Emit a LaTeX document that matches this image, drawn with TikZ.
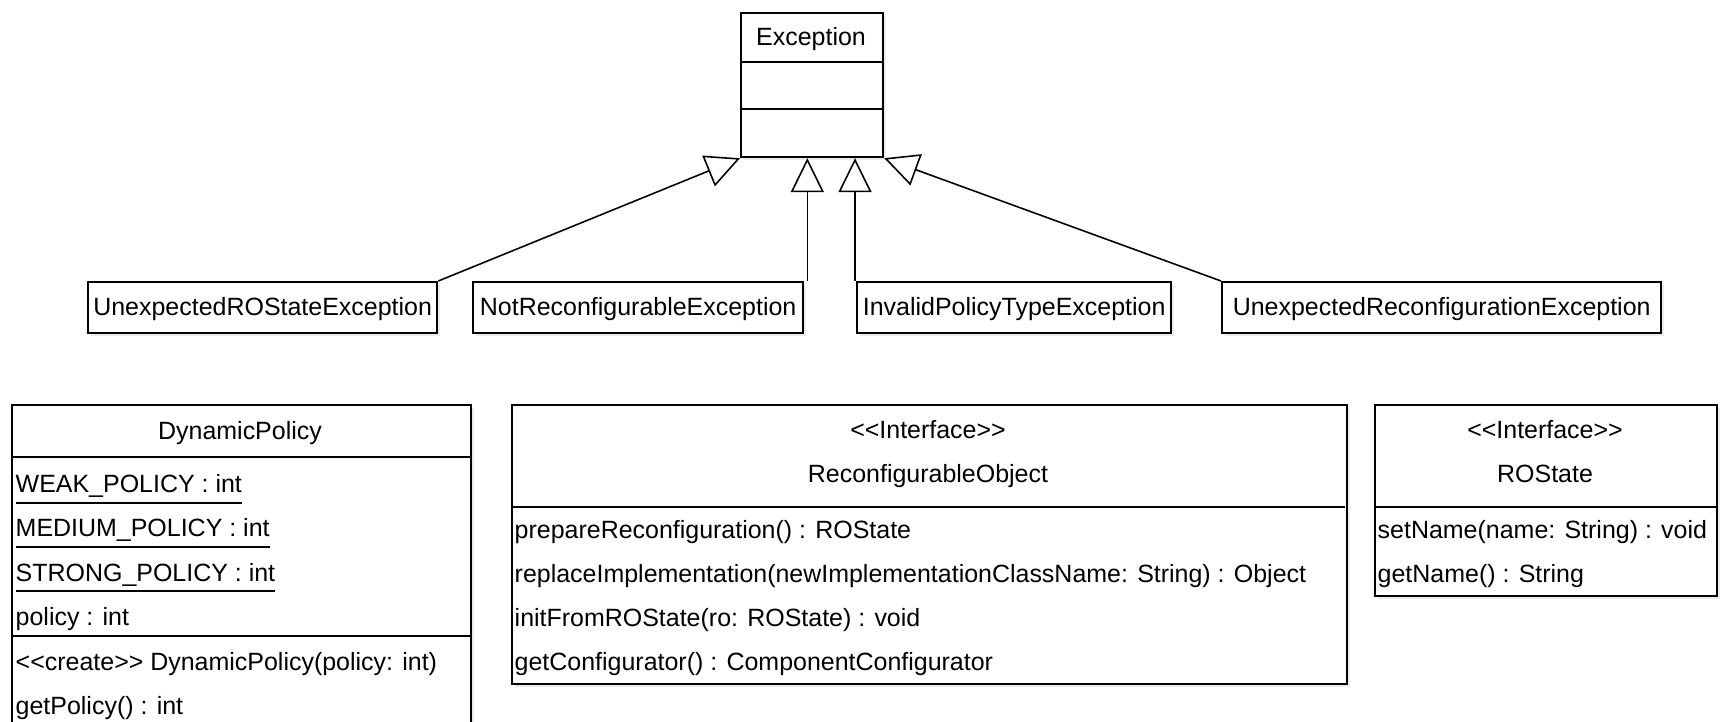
\documentclass[tikz,border=0pt]{standalone}
\usepackage{fontspec}
\setmainfont{Liberation Sans}
\usetikzlibrary{arrows.meta, shadows}

\newcommand\stereotype[1]{<{}<#1>{}>}

\tikzset{
  classbox/.style={draw, line width=0.6pt, fill=white, anchor=north west, inner sep=0pt,
    drop shadow={shadow xshift=0.3mm, shadow yshift=-0.3mm, opacity=0.15}},
  excbox/.style={classbox, minimum height=0.51cm, text height=2mm, text depth=0.5mm},
  member/.style={inner sep=0pt, anchor=base west},
  classname/.style={inner sep=0pt, anchor=base},
  compartment/.style={line width=0.6pt},
  inherits/.style={line width=0.45pt, -{Triangle[open, length=3.4mm, width=3.3mm]}},
}

\begin{document}
\begin{tikzpicture}[x=0.01cm, y=-0.01cm, font=\fontsize{7.1pt}{9pt}\selectfont]
    \useasboundingbox (0,0) rectangle (1725,722);
    \clip (0,0) rectangle (1725,722);
    % Exception
    \node[classbox, minimum width=1.42cm, minimum height=1.44cm] (exc) at (740,12) {};
    \node[classname] (exc-name) at (811,46) {Exception};
    \draw[compartment] (740,62) -- (882,62);
    \draw[compartment] (740,109) -- (882,109);
    % subclasses
    \node[excbox, minimum width=3.49cm] (urose) at (87,281) {UnexpectedROStateException};
    \node[excbox, minimum width=3.30cm] (notrec) at (472,281) {NotReconfigurableException};
    \node[excbox, minimum width=3.14cm] (invpol) at (856,281) {InvalidPolicyTypeException};
    \node[excbox, minimum width=4.39cm] (unrec) at (1221,281) {UnexpectedReconfigurationException};
    % generalizations
    \draw[inherits] (urose.north east) -- (exc.south west);
    \draw[inherits] ([xshift=0.3mm]notrec.north east) -- ([xshift=0.3mm]notrec.north east |- exc.south);
    \draw[inherits] ([xshift=-0.1mm]invpol.north west) -- ([xshift=-0.1mm]invpol.north west |- exc.south);
    \draw[inherits] (unrec.north west) -- (exc.south east);
    % DynamicPolicy
    \node[classbox, minimum width=4.59cm, minimum height=3.4cm] (dp) at (11,404) {};
    \node[classname] (dp-name) at (240,440) {DynamicPolicy};
    \draw[compartment] (11,457) -- (470,457);
    \node[member] (dp-weak) at (15,493) {\underline{WEAK\_POLICY : int}};
    \node[member] (dp-medium) at (15,537) {\underline{MEDIUM\_POLICY : int}};
    \node[member] (dp-strong) at (15,581) {\underline{STRONG\_POLICY : int}};
    \node[member] (dp-policy) at (15,625) {policy : int};
    \draw[compartment] (11,636) -- (470,636);
    \node[member] (dp-create) at (15,670) {\stereotype{create} DynamicPolicy(policy: int)};
    \node[member] (dp-get) at (15,714) {getPolicy() : int};
    % ReconfigurableObject
    \node[classbox, minimum width=8.34cm, minimum height=2.79cm] (ro) at (511,404) {};
    \node[classname] (ro-stereo) at (928,439) {\stereotype{Interface}};
    \node[classname] (ro-name) at (928,483) {ReconfigurableObject};
    \draw[compartment] (511,507) -- (1345,507);
    \node[member] (ro-prepare) at (514,538) {prepareReconfiguration() : ROState};
    \node[member] (ro-replace) at (514,582) {replaceImplementation(newImplementationClassName: String) : Object};
    \node[member] (ro-init) at (514,626) {initFromROState(ro: ROState) : void};
    \node[member] (ro-conf) at (514,670) {getConfigurator() : ComponentConfigurator};
    % ROState
    \node[classbox, minimum width=3.42cm, minimum height=1.91cm] (rs) at (1374,404) {};
    \node[classname] (rs-stereo) at (1545,439) {\stereotype{Interface}};
    \node[classname] (rs-name) at (1545,483) {ROState};
    \draw[compartment] (1374,507) -- (1716,507);
    \node[member] (rs-set) at (1377,538) {setName(name: String) : void};
    \node[member] (rs-get) at (1377,582) {getName() : String};
\end{tikzpicture}
\end{document}
